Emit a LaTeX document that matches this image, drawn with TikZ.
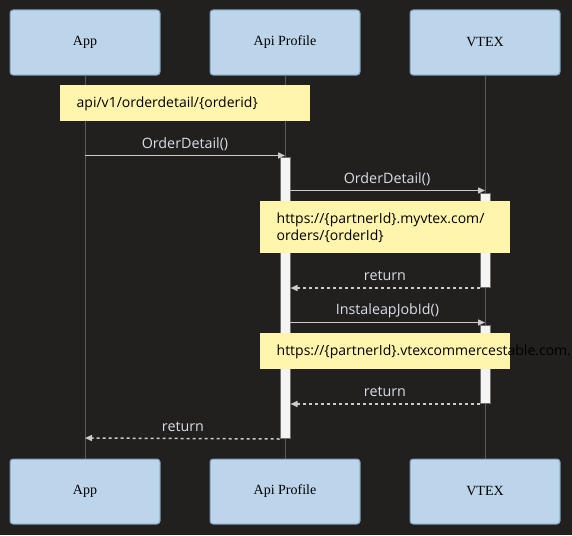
\documentclass[tikz,border=0pt]{standalone}
\usepackage{fontspec}
\setmainfont{Liberation Serif}
\newfontfamily\msgfont{Open Sans}
\usetikzlibrary{arrows.meta}
\definecolor{bg}{RGB}{33,32,31}
\definecolor{actorfill}{RGB}{189,213,234}
\definecolor{actorline}{RGB}{125,155,185}
\definecolor{notefill}{RGB}{255,245,173}
\definecolor{msgline}{RGB}{204,204,204}
\definecolor{msgtext}{RGB}{218,222,230}
\definecolor{lifeline}{RGB}{92,92,92}
\definecolor{actfill}{RGB}{244,244,244}
\definecolor{actline}{RGB}{110,110,110}
\tikzset{
  actor/.style={draw=actorline, line width=1pt, fill=actorfill, rounded corners=3pt,
    minimum width=150pt, minimum height=65pt, inner sep=0pt, font=\fontsize{14}{16}\selectfont, text=black},
  life/.style={draw=lifeline, line width=1pt},
  actbox/.style={draw=actline, line width=1pt, fill=actfill, minimum width=10pt, inner sep=0pt, anchor=north},
  notebox/.style={fill=notefill, draw=none, inner sep=0pt, anchor=north west},
  notetext/.style={font=\msgfont\fontsize{14}{17}\selectfont, text=black, anchor=west, inner sep=0pt, align=left},
  msg/.style={draw=msgline, line width=1.5pt, -{Triangle[length=7pt,width=6pt]}},
  ret/.style={msg, dash pattern=on 3pt off 3pt},
  lbl/.style={font=\msgfont\fontsize{14.3}{16}\selectfont, text=msgtext, inner sep=0pt}
}
\begin{document}
\begin{tikzpicture}[x=1pt,y=-1pt]
\fill[bg] (0,0) rectangle (572,535);
\useasboundingbox (0,0) rectangle (572,535);
\clip (0,0) rectangle (572,535);
% actors
\node[actor] (appT) at (85,42.5) {App};
\node[actor] (apiT) at (285,42.5) {Api Profile};
\node[actor] (vtxT) at (485,42.5) {VTEX};
\node[actor] (appB) at (85,491.5) {App};
\node[actor] (apiB) at (285,491.5) {Api Profile};
\node[actor] (vtxB) at (485,491.5) {VTEX};
% lifelines
\draw[life] (appT.south) -- (appB.north);
\draw[life] (apiT.south) -- (apiB.north);
\draw[life] (vtxT.south) -- (vtxB.north);
% activations
\node[actbox, minimum height=281pt] (actA) at (285,157) {};
\node[actbox, minimum height=94pt] (actV1) at (485,193) {};
\node[actbox, minimum height=78pt] (actV2) at (485,325) {};
% note 1
\node[notebox, minimum width=250pt, minimum height=36pt] (n1) at (60,85) {};
\node[notetext] (n1t) at (76.5,103.5) {api/v1/orderdetail/\{orderid\}};
% message 1
\coordinate (m1s) at (85,155.5);
\coordinate (m1e) at (285,155.5);
\draw[msg] (m1s) -- (m1e);
\node[lbl] (l1) at (185,144) {OrderDetail()};
% message 2
\coordinate (m2s) at (290,190.5);
\coordinate (m2e) at (485,190.5);
\draw[msg] (m2s) -- (m2e);
\node[lbl] (l2) at (387,179) {OrderDetail()};
% note 2
\node[notebox, minimum width=250pt, minimum height=52pt] (n2) at (260,200.5) {};
\node[notetext] (n2t) at (276.5,228) {https://\{partnerId\}.myvtex.com/\\orders/\{orderId\}};
% return 1
\draw[ret] (actV1.south west) -- (actA.east |- actV1.south);
\node[lbl] (l3) at (385,275.5) {return};
% message 3
\coordinate (m3s) at (290,322.5);
\coordinate (m3e) at (485,322.5);
\draw[msg] (m3s) -- (m3e);
\node[lbl] (l4) at (387.5,311) {InstaleapJobId()};
% note 3
\node[notebox, minimum width=250pt, minimum height=36pt] (n3) at (260,333) {};
\node[notetext] (n3t) at (276.5,352) {https://\{partnerId\}.vtexcommercestable.com.br};
% return 2
\draw[ret] (actV2.south west) -- (actA.east |- actV2.south);
\node[lbl] (l5) at (385,391.5) {return};
% return 3
\coordinate (r3e) at (85,438);
\draw[ret] (actA.south west) -- (r3e);
\node[lbl] (l6) at (183,426.5) {return};
\end{tikzpicture}
\end{document}
